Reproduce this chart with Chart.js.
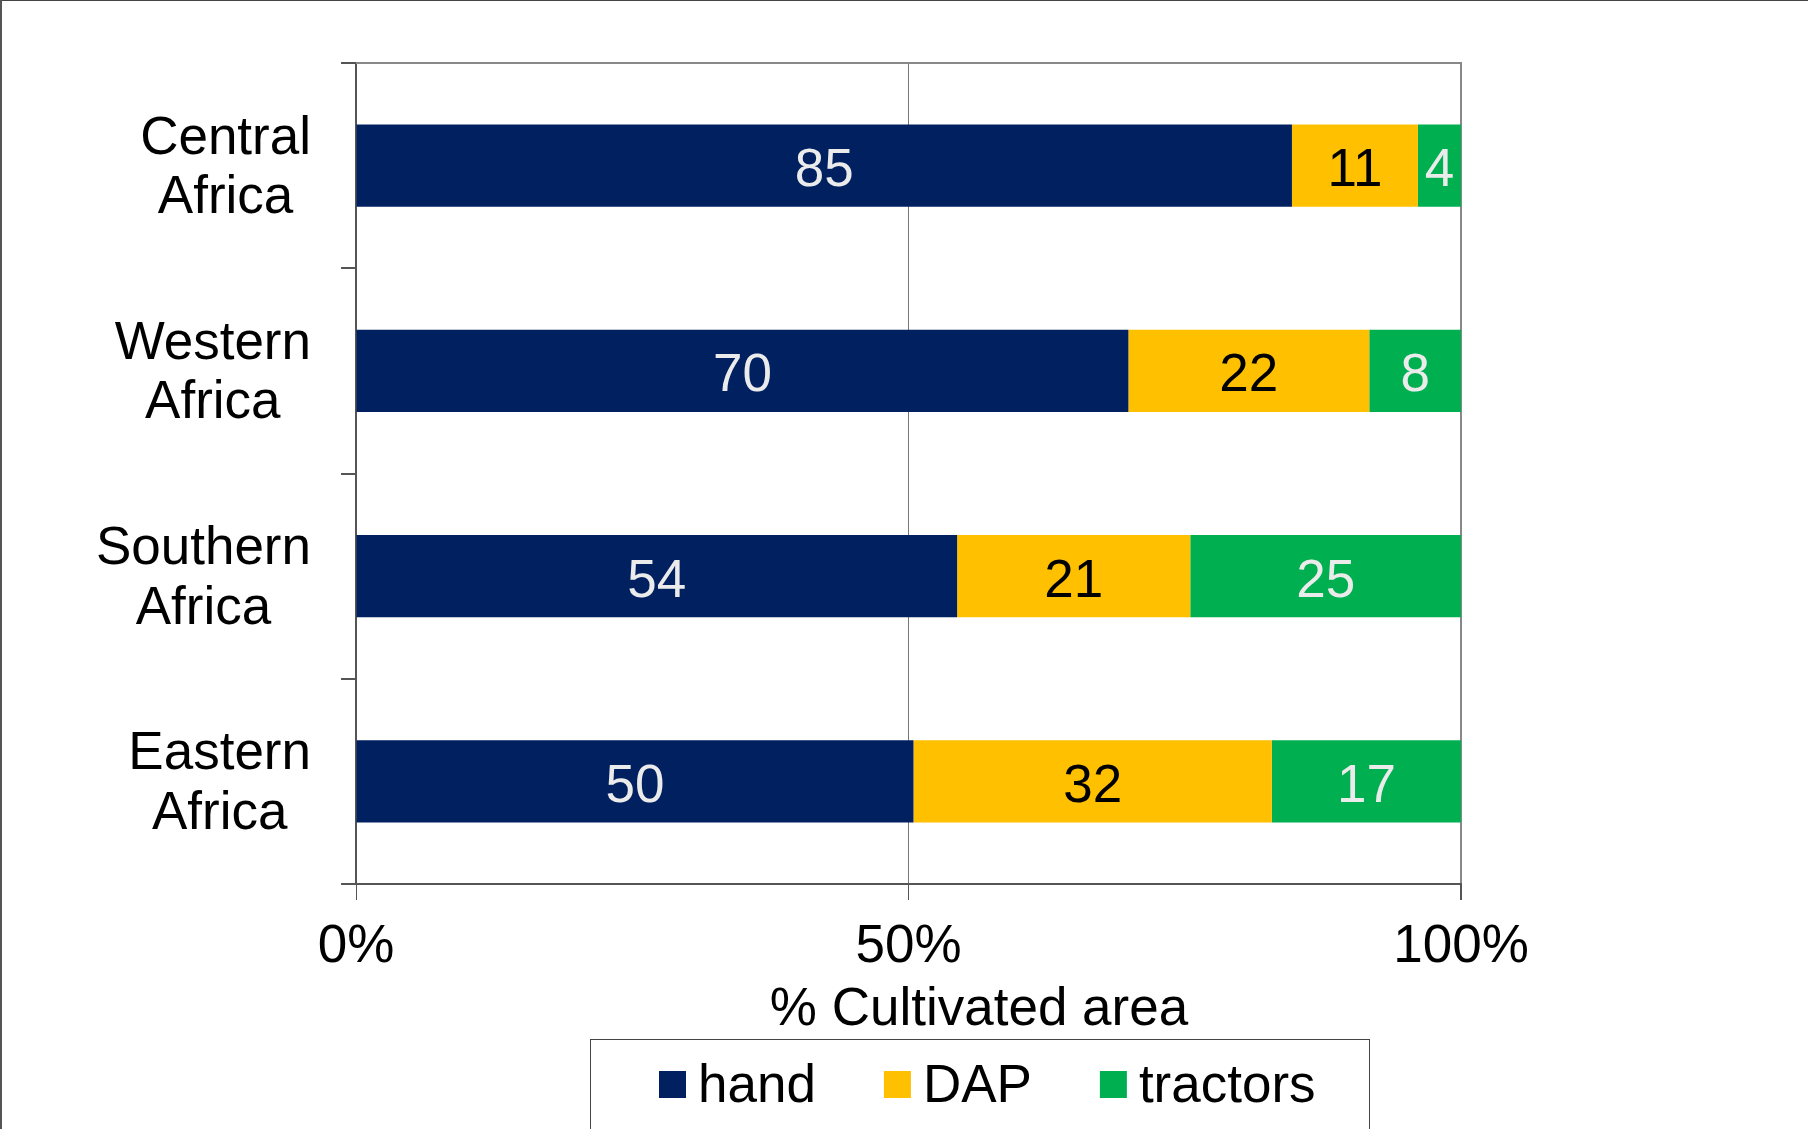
<!DOCTYPE html>
<html>
<head>
<meta charset="utf-8">
<script src="https://cdn.jsdelivr.net/npm/chart.js@4.4.1/dist/chart.umd.min.js"></script>
<style>
html,body{margin:0;padding:0;background:#fff;}
#c{display:block;}
</style>
</head>
<body>
<canvas id="c" width="1808" height="1129"></canvas>
<script>
// ---- data (percent of cultivated area) ----
const categories = [['Central','Africa'],['Western','Africa'],['Southern','Africa'],['Eastern','Africa']];
const seriesNames = ['hand','DAP','tractors'];
const hand = [84.7, 69.9, 54.4, 50.4];
const dap = [11.4, 21.8, 21.1, 32.4];
const tractors = [3.9, 8.3, 24.5, 17.1];
const xTickLabels = ['0%', '50%', '100%'];
const xAxisTitle = '% Cultivated area';

// ---- styling ----
const seriesColors = ['#002060', '#FFC000', '#00B050'];
const labelColors = ['#EBEBEB', '#000000', '#EBEBEB'];
const FONT = "'Liberation Sans', Arial, sans-serif";
const FS = 53;

const rawSeries = [hand, dap, tractors];
const totals = categories.map((_, j) => rawSeries.reduce((s, arr) => s + arr[j], 0));
const shares = rawSeries.map(arr => arr.map((v, j) => v / totals[j] * 100));

Chart.defaults.font.family = FONT;

const framePlugin = {
  id: 'frame',
  beforeDatasetsDraw(chart) {
    const {ctx, chartArea: a} = chart;
    ctx.save();
    ctx.strokeStyle = '#888';
    ctx.lineWidth = 2;
    ctx.beginPath();
    ctx.moveTo(a.left, a.top);
    ctx.lineTo(a.right + 1, a.top);
    ctx.stroke();
    ctx.restore();
  },
  afterDraw(chart) {
    const {ctx, width, height} = chart;
    ctx.save();
    ctx.strokeStyle = '#444';
    ctx.lineWidth = 1;
    ctx.beginPath();
    ctx.moveTo(0, 0.5); ctx.lineTo(width, 0.5);
    ctx.stroke();
    ctx.strokeStyle = '#555';
    ctx.lineWidth = 2;
    ctx.beginPath();
    ctx.moveTo(1, 0); ctx.lineTo(1, height);
    ctx.stroke();
    ctx.restore();
  }
};

// category labels: each block right-aligned next to the axis, lines centred within the block
const categoryLabels = {
  id: 'categoryLabels',
  afterDraw(chart) {
    const {ctx} = chart;
    const ys = chart.scales.y;
    const blockRight = ys.right - 45;
    ctx.save();
    ctx.font = FS + 'px ' + FONT;
    ctx.fillStyle = '#000';
    ctx.textAlign = 'center';
    ctx.textBaseline = 'alphabetic';
    chart.data.labels.forEach((lines, i) => {
      const cy = ys.getPixelForTick(i);
      const w = Math.max(...lines.map(l => ctx.measureText(l).width));
      const cx = blockRight - w / 2;
      ctx.fillText(lines[0], cx, cy - 12);
      ctx.fillText(lines[1], cx, cy + 47.5);
    });
    ctx.restore();
  }
};

const axisTitle = {
  id: 'axisTitle',
  afterDraw(chart) {
    const {ctx} = chart;
    const xs = chart.scales.x;
    ctx.save();
    ctx.font = FS + 'px ' + FONT;
    ctx.fillStyle = '#000';
    ctx.textAlign = 'center';
    ctx.textBaseline = 'alphabetic';
    ctx.fillText(xAxisTitle, 979, xs.top + 141);
    ctx.restore();
  }
};

const valueLabels = {
  id: 'valueLabels',
  afterDatasetsDraw(chart) {
    const {ctx} = chart;
    ctx.save();
    ctx.font = FS + 'px ' + FONT;
    ctx.textAlign = 'center';
    ctx.textBaseline = 'alphabetic';
    chart.data.datasets.forEach((ds, i) => {
      const meta = chart.getDatasetMeta(i);
      meta.data.forEach((el, j) => {
        const cx = (el.x + el.base) / 2;
        ctx.fillStyle = labelColors[i];
        ctx.fillText(String(Math.round(rawSeries[i][j])), cx, el.y + 20.5);
      });
    });
    ctx.restore();
  }
};

const boxLegend = {
  id: 'boxLegend',
  afterDraw(chart) {
    const {ctx} = chart;
    const xs = chart.scales.x;
    const boxTop = xs.bottom;
    const boxLeft = 590, boxW = 779;
    ctx.save();
    ctx.strokeStyle = '#444';
    ctx.lineWidth = 1;
    ctx.strokeRect(boxLeft + 0.5, boxTop + 0.5, boxW, 200);
    ctx.font = FS + 'px ' + FONT;
    ctx.textBaseline = 'alphabetic';
    ctx.textAlign = 'left';
    const sq = 27, gap = 12, after = 68;
    let x = boxLeft + 69;
    const sqTop = boxTop + 32;
    const baseline = boxTop + 63;
    chart.data.datasets.forEach((ds) => {
      ctx.fillStyle = ds.backgroundColor;
      ctx.fillRect(x, sqTop, sq, sq);
      ctx.fillStyle = '#000';
      ctx.fillText(ds.label, x + sq + gap, baseline);
      x += sq + gap + ctx.measureText(ds.label).width + after;
    });
    ctx.restore();
  }
};

new Chart(document.getElementById('c'), {
  type: 'bar',
  data: {
    labels: categories,
    datasets: seriesNames.map((n, i) => ({
      label: n,
      data: shares[i],
      backgroundColor: seriesColors[i],
      borderWidth: 0,
      barPercentage: 0.4,
      categoryPercentage: 1
    }))
  },
  options: {
    indexAxis: 'y',
    responsive: false,
    animation: false,
    layout: { padding: { top: 63, bottom: 90, left: 0, right: 347 } },
    plugins: {
      legend: { display: false },
      tooltip: { enabled: false }
    },
    scales: {
      x: {
        stacked: true,
        min: 0, max: 100,
        afterFit(s) { s.height = 155; s.paddingLeft = 0; s.paddingRight = 0; },
        ticks: {
          stepSize: 50,
          autoSkip: false,
          maxRotation: 0,
          padding: 21,
          color: '#000',
          font: { size: FS, lineHeight: 1.0 },
          callback: (v, i) => xTickLabels[i]
        },
        grid: {
          drawOnChartArea: true,
          color: (c) => c.index === 2 ? '#888' : '#777',
          lineWidth: (c) => c.index === 2 ? 2 : 1,
          tickColor: '#555',
          tickLength: 16
        },
        border: { display: true, color: '#555', width: 2 },
        title: { display: false, text: xAxisTitle }
      },
      y: {
        stacked: true,
        offset: true,
        afterFit(s) { s.width = 356; s.paddingTop = 0; s.paddingBottom = 0; },
        ticks: { display: false },
        grid: {
          offset: true,
          drawOnChartArea: false,
          color: '#555',
          lineWidth: 2,
          tickLength: 15
        },
        border: { display: true, color: '#555', width: 2 }
      }
    }
  },
  plugins: [framePlugin, valueLabels, categoryLabels, axisTitle, boxLegend]
});
</script>
</body>
</html>
